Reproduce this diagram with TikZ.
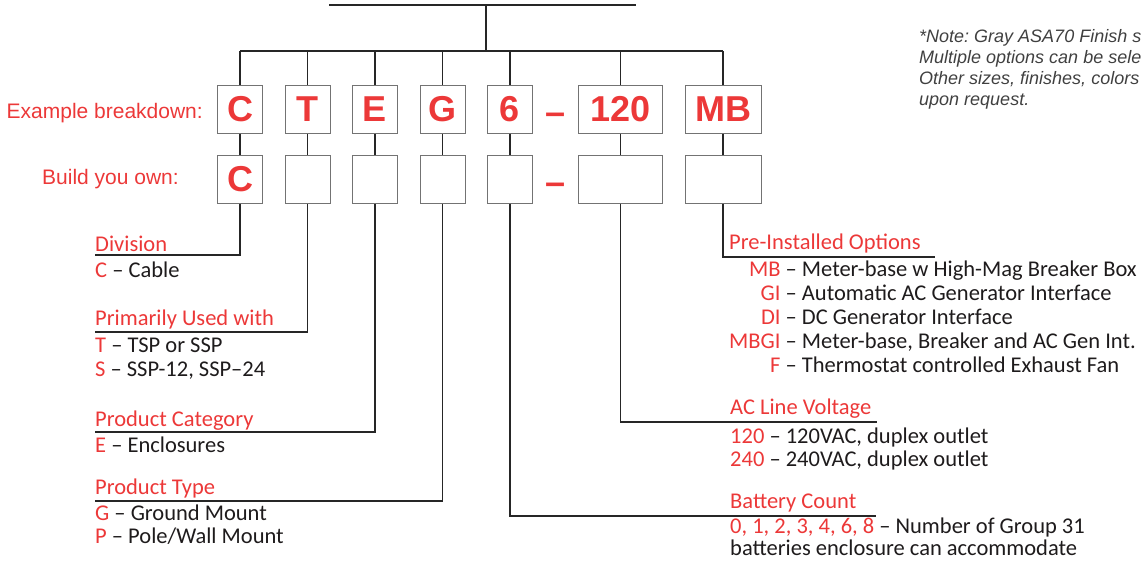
\documentclass[tikz,border=0pt]{standalone}
\usepackage{fontspec}
\setmainfont{Carlito}
\newfontfamily\arialfont{Liberation Sans}
\usetikzlibrary{positioning}
\frenchspacing

\definecolor{codered}{RGB}{236,56,56}
\definecolor{inkdark}{RGB}{30,27,28}
\definecolor{notegray}{RGB}{64,64,64}
\newcommand{\code}[1]{\textcolor{codered}{#1}}

\tikzset{
  wire/.style={line width=1.5pt, draw=black!85},
  codebox/.style={draw=black!55, line width=1pt, minimum width=45pt,
    minimum height=48pt, inner sep=0pt, text=codered,
    font=\arialfont\bfseries\fontsize{36}{40}\selectfont},
  dashmark/.style={inner sep=0pt, text=codered,
    font=\arialfont\bfseries\fontsize{36}{40}\selectfont},
  rowlabel/.style={inner sep=0pt, text=codered,
    font=\arialfont\fontsize{21}{24}\selectfont},
  head/.style={anchor=base west, inner sep=0pt, text=codered,
    font=\fontsize{22.5}{23.5}\selectfont},
  desc/.style={anchor=base west, inner sep=0pt, text=inkdark,
    font=\fontsize{22.5}{23.5}\selectfont}
}

\begin{document}
\begin{tikzpicture}[x=1pt, y=-1pt]
  \useasboundingbox (0,0) rectangle (1144,561);
  \clip (0,0) rectangle (1144,561);

  % Example row
  \node[codebox] (exC) at (240,109.5) {C};
  \node[codebox, right=21.5pt of exC] (exT) {T};
  \node[codebox, right=21.5pt of exT] (exE) {E};
  \node[codebox, right=21.5pt of exE] (exG) {G};
  \node[codebox, right=21.5pt of exG] (exSix) {6};
  \node[codebox, right=45pt of exSix, minimum width=84pt] (exV) {120};
  \node[codebox, right=21.5pt of exV, minimum width=76pt] (exMB) {MB};
  \path (exSix.east) -- (exV.west) node[midway, dashmark, yshift=-9pt] (exDash) {–};
  \node[rowlabel, anchor=base east] (exLabel) at (203,119) {Example breakdown:};

  % Build row
  \node[codebox, below=21pt of exC] (bdC) {C};
  \node[codebox, below=21pt of exT] (bdT) {};
  \node[codebox, below=21pt of exE] (bdE) {};
  \node[codebox, below=21pt of exG] (bdG) {};
  \node[codebox, below=21pt of exSix] (bdSix) {};
  \node[codebox, below=21pt of exV, minimum width=84pt] (bdV) {};
  \node[codebox, below=21pt of exMB, minimum width=76pt] (bdMB) {};
  \path (bdSix.east) -- (bdV.west) node[midway, dashmark, yshift=-9pt] (bdDash) {–};
  \node[rowlabel, anchor=base west] (bdLabel) at (42,185) {Build you own:};

  % Top bus
  \coordinate (topL) at (329,5);
  \coordinate (topR) at (636,5);
  \coordinate (topMid) at (486,5);
  \coordinate (busMid) at (486,51);
  \draw[wire] (topL) -- (topR);
  \draw[wire] (topMid) -- (busMid);
  \draw[wire] (exC.north |- busMid) -- (exMB.north |- busMid);
  \foreach \k in {C,T,E,G,Six,V,MB}
    \draw[wire] (ex\k.north) -- (ex\k.north |- busMid);
  \foreach \k in {C,T,E,G,Six,V,MB}
    \draw[wire] (ex\k.south) -- (bd\k.north);

  % Division
  \node[head] (divHead) at (95,252) {Division};
  \node[desc] (divText) at (95,278) {\code{C} – Cable};
  \coordinate (divEnd) at (95,255);
  \draw[wire] (bdC.south) |- (divEnd);

  % Primarily used with
  \node[head] (useHead) at (95,326) {Primarily Used with};
  \node[desc] (useText) at (95,353)
    {\begin{tabular}[t]{@{}l@{}}\code{T} – TSP or SSP\\ \code{S} – SSP-12, SSP–24\end{tabular}};
  \coordinate (useEnd) at (95,332);
  \draw[wire] (bdT.south) |- (useEnd);

  % Product category
  \node[head] (catHead) at (95,427) {Product Category};
  \node[desc] (catText) at (95,452) {\code{E} – Enclosures};
  \coordinate (catEnd) at (95,432);
  \draw[wire] (bdE.south) |- (catEnd);

  % Product type
  \node[head] (typeHead) at (95,494) {Product Type};
  \node[desc] (typeText) at (95,520)
    {\begin{tabular}[t]{@{}l@{}}\code{G} – Ground Mount\\ \code{P} – Pole/Wall Mount\end{tabular}};
  \coordinate (typeEnd) at (95,501);
  \draw[wire] (bdG.south) |- (typeEnd);

  % Pre-installed options
  \node[head] (optHead) at (729,250) {Pre-Installed Options};
  \node[desc, font=\fontsize{22.5}{24}\selectfont] (optText) at (729,277)
    {\begin{tabular}[t]{@{}r@{ – }l@{}}
      \code{MB} & Meter-base w High-Mag Breaker Box\\
      \code{GI} & Automatic AC Generator Interface\\
      \code{DI} & DC Generator Interface\\
      \code{MBGI} & Meter-base, Breaker and AC Gen Int.\\
      \code{F} & Thermostat controlled Exhaust Fan
    \end{tabular}};
  \coordinate (optEnd) at (935,257);
  \draw[wire] (bdMB.south) |- (optEnd);

  % AC line voltage
  \node[head] (voltHead) at (730,415) {AC Line Voltage};
  \node[desc] (voltText) at (730,443)
    {\begin{tabular}[t]{@{}l@{}}\code{120} – 120VAC, duplex outlet\\ \code{240} – 240VAC, duplex outlet\end{tabular}};
  \coordinate (voltEnd) at (877,422);
  \draw[wire] (bdV.south) |- (voltEnd);

  % Battery count
  \node[head] (battHead) at (730,508) {Battery Count};
  \node[desc, font=\fontsize{22.5}{22}\selectfont] (battText) at (730,533)
    {\begin{tabular}[t]{@{}l@{}}\code{0, 1, 2, 3, 4, 6, 8} – Number of Group 31\\ batteries enclosure can accommodate\end{tabular}};
  \coordinate (battEnd) at (876,516);
  \draw[wire] (bdSix.south) |- (battEnd);

  % Note
  \node[anchor=base west, inner sep=0pt, text=notegray,
    font=\arialfont\itshape\fontsize{18}{21}\selectfont] (note) at (919,43)
    {\begin{tabular}[t]{@{}l@{}}*Note: Gray ASA70 Finish s\\ Multiple options can be sele\\ Other sizes, finishes, colors\\ upon request.\end{tabular}};
\end{tikzpicture}
\end{document}
